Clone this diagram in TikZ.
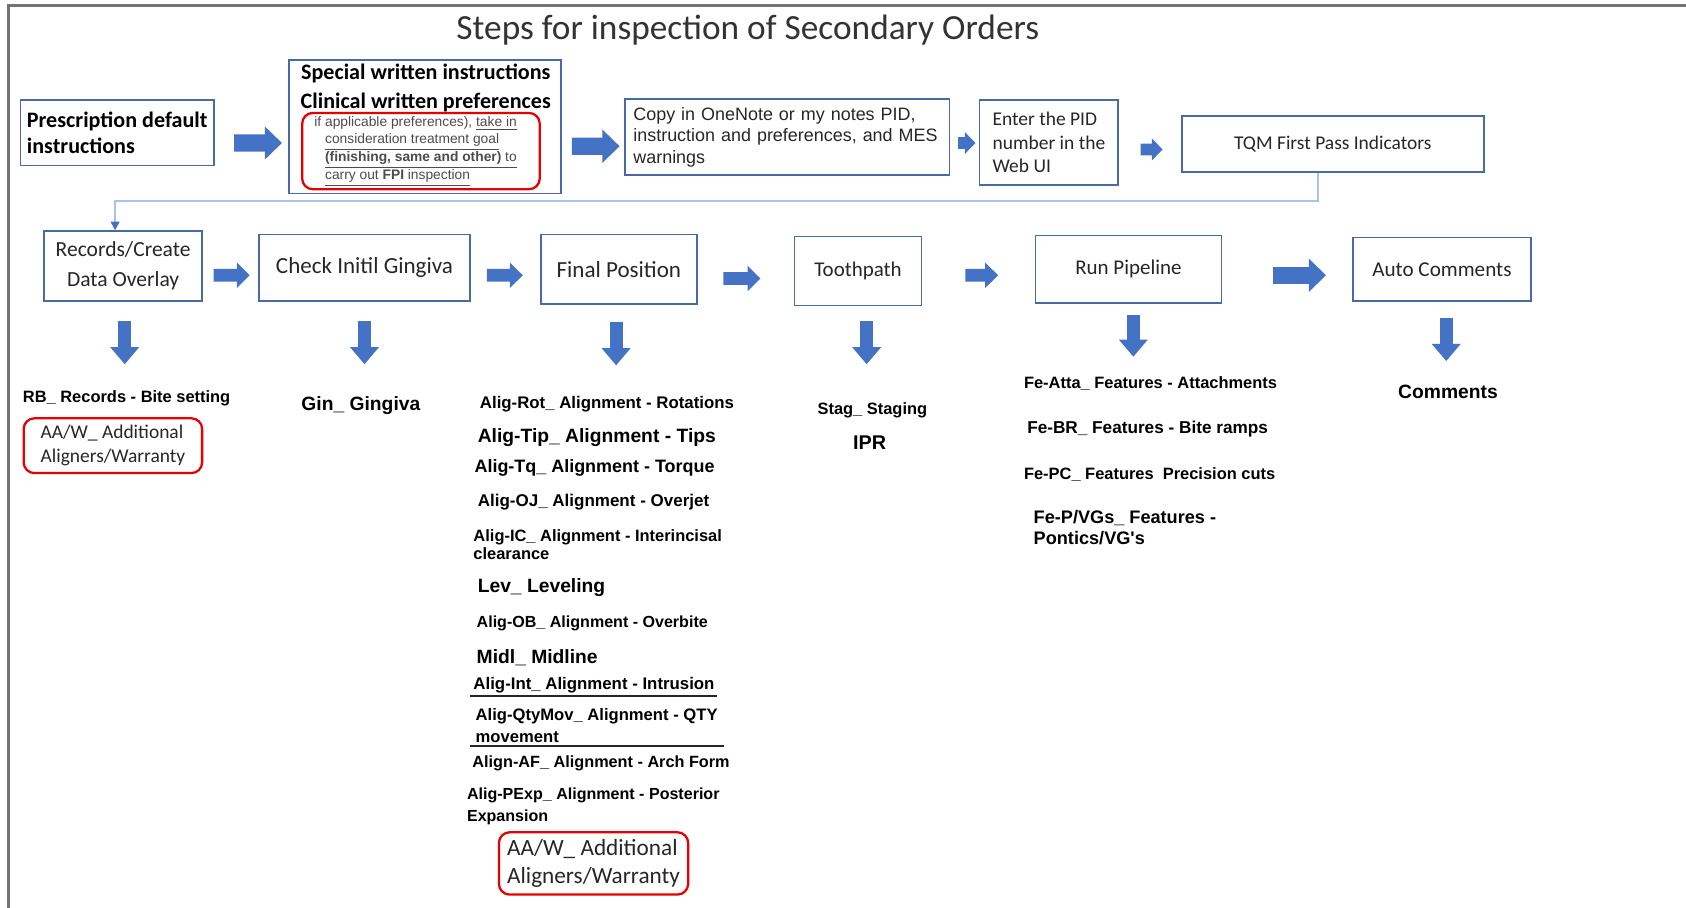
\documentclass[tikz,border=0pt]{standalone}
\usepackage{fontspec}
\setmainfont{Carlito}
\newfontfamily\arialfont{Liberation Sans}
\usetikzlibrary{arrows.meta,calc}

\definecolor{arrblue}{RGB}{68,114,196}
\definecolor{boxblue}{RGB}{72,106,168}
\definecolor{linkblue}{RGB}{170,195,232}
\definecolor{redline}{RGB}{232,0,0}

\begin{document}
\begin{tikzpicture}[x=0.02cm,y=-0.02cm]

	\tikzstyle{stepbox}   = [rectangle, draw=boxblue, line width=0.9pt, inner sep=0pt, text=black!85]
	\tikzstyle{redbox}    = [rectangle, rounded corners=0.2cm, draw=redline, line width=1.2pt, inner sep=0pt, align=left]
	\tikzstyle{lbl}       = [anchor=west, inner sep=0pt, align=left, font=\arialfont\bfseries\fontsize{8.7}{9.7}\selectfont]
	\tikzstyle{big lbl}   = [lbl, font=\arialfont\bfseries\fontsize{10.2}{11.4}\selectfont]
	\tikzstyle{fat}       = [draw=arrblue, line width=0.32cm, -{Triangle[length=0.32cm,width=0.6cm]}]
	\tikzstyle{small fat} = [draw=arrblue, line width=0.22cm, -{Triangle[length=0.2cm,width=0.4cm]}]
	\tikzstyle{mid fat}   = [draw=arrblue, line width=0.24cm, -{Triangle[length=0.24cm,width=0.46cm]}]
	\tikzstyle{down fat}  = [draw=arrblue, line width=0.24cm, -{Triangle[length=0.32cm,width=0.52cm]}]
	\tikzstyle{link}      = [draw=linkblue, line width=0.9pt, -{Triangle[length=0.16cm,width=0.16cm,color=arrblue]}]
	\tikzstyle{outer line}= [draw=black!55, line width=1.2pt]
	\tikzstyle{rule}      = [draw=black!85, line width=0.9pt]

	\useasboundingbox (0,0) rectangle (1568,844);
	\draw[outer line] (8,844) -- (8,5) -- (1568,5);

	\node[font=\fontsize{18.7}{22}\selectfont, text=black!80] (title) at (695.5,28) {Steps for inspection of Secondary Orders};

	% top row
	\node[stepbox, minimum width=3.6cm, minimum height=1.22cm, align=left, text=black, font=\bfseries\fontsize{11.7}{13.7}\selectfont] (pdi) at (109,123.5) {Prescription default\\instructions};

	\node[stepbox, minimum width=5.06cm, minimum height=2.48cm] (swi) at (395.5,118) {};
	\node[align=center, inner sep=0pt, font=\bfseries\fontsize{11.7}{15.4}\selectfont] (swit) at (396,81.5) {Special written instructions\\Clinical written preferences};
	\node[redbox, minimum width=4.42cm, minimum height=1.42cm, text=black!70, font=\arialfont\fontsize{7.3}{9.4}\selectfont] (swir) at (391.5,140.5)
		{\hspace*{-0.2cm}if applicable preferences), \underline{take in}\\\underline{consideration treatment goal}\\\underline{\textbf{(finishing, same and other)} to}\\\underline{carry out \textbf{FPI} inspection}};

	\node[stepbox, minimum width=6.04cm, minimum height=1.42cm, text width=5.72cm, align=left, font=\arialfont\fontsize{9.5}{11.4}\selectfont] (cpy) at (732,127.5) {Copy in OneNote or my notes PID,\\instruction and preferences, and MES\\warnings};

	\node[stepbox, minimum width=2.58cm, minimum height=1.58cm, align=left, font=\fontsize{10.3}{12.5}\selectfont] (pid) at (975.5,132.5) {Enter the PID\\number in the\\Web UI};

	\node[stepbox, minimum width=5.62cm, minimum height=1.04cm, font=\fontsize{10.3}{12.5}\selectfont] (tqm) at (1239.5,134) {TQM First Pass Indicators};

	\draw[fat] ($(pdi.east)+(18,9.5)$) -- ($(swi.west)+(-6,15)$);
	\draw[fat] ($(swi.east)+(9,18)$) -- ($(cpy.west)+(-4,8.5)$);
	\draw[small fat] ($(cpy.east)+(7,5.5)$) -- ($(pid.west)+(-3,0.5)$);
	\draw[small fat] ($(pid.east)+(20,6.5)$) -- ($(tqm.west)+(-17,5)$);

	% second row
	\node[stepbox, minimum width=2.94cm, minimum height=1.3cm, align=center, font=\fontsize{11.4}{15.9}\selectfont] (rec) at (114.5,247.5) {Records/Create\\Data Overlay};
	\node[stepbox, minimum width=3.92cm, minimum height=1.24cm, font=\fontsize{12.2}{14}\selectfont] (cig) at (339,249) {Check Initil Gingiva};
	\node[stepbox, minimum width=2.9cm, minimum height=1.3cm, font=\fontsize{12.2}{14}\selectfont] (fpo) at (575.5,250.5) {Final Position};
	\node[stepbox, minimum width=2.36cm, minimum height=1.28cm, font=\fontsize{11.1}{13}\selectfont] (tpa) at (798,252) {Toothpath};
	\node[stepbox, minimum width=3.46cm, minimum height=1.26cm, font=\fontsize{11.1}{13}\selectfont] (rpl) at (1049.5,250.5) {Run Pipeline};
	\node[stepbox, minimum width=3.32cm, minimum height=1.18cm, font=\fontsize{11.2}{13}\selectfont] (aco) at (1341,250.5) {Auto Comments};

	\draw[link] ($(tqm.south)+(-13.5,0)$) -- ++(0,26) -| ($(rec.north)+(-7.5,0)$);

	\draw[mid fat] ($(rec.east)+(10,8.5)$) -- ($(cig.west)+(-8,7)$);
	\draw[mid fat] ($(cig.east)+(15,7)$) -- ($(fpo.west)+(-16,5.5)$);
	\draw[mid fat] ($(fpo.east)+(24,8.5)$) -- ($(tpa.west)+(-31,7)$);
	\draw[mid fat] ($(tpa.east)+(40,4)$) -- ($(rpl.west)+(-34,5.5)$);
	\draw[fat] ($(rpl.east)+(47,5.5)$) -- ($(aco.west)+(-24,5.5)$);

	\draw[down fat] ($(rec.south)+(1.5,18)$) -- ($(rec.south)+(1.5,58)$);
	\draw[down fat] ($(cig.south)+(0,18)$) -- ($(cig.south)+(0,58)$);
	\draw[down fat] ($(fpo.south)+(-2.5,16)$) -- ($(fpo.south)+(-2.5,56)$);
	\draw[down fat] ($(tpa.south)+(8,14)$) -- ($(tpa.south)+(8,54)$);
	\draw[down fat] ($(rpl.south)+(4.5,10)$) -- ($(rpl.south)+(4.5,49)$);
	\draw[down fat] ($(aco.south)+(4,15)$) -- ($(aco.south)+(4,55)$);

	% codes under each step
	\node[lbl] (rb) at (21,370) {RB\_ Records - Bite setting};
	\node[redbox, minimum width=3.32cm, minimum height=1.02cm, text=black!85, font=\fontsize{10.3}{12.5}\selectfont] (aaw1) at (105,414.5) {AA/W\_ Additional\\Aligners/Warranty};

	\node[big lbl] (gin) at (280,377) {Gin\_ Gingiva};

	\node[lbl, font=\arialfont\bfseries\fontsize{8.9}{10}\selectfont] (rot) at (446,376) {Alig-Rot\_ Alignment - Rotations};
	\node[big lbl] (tip) at (444,407) {Alig-Tip\_ Alignment - Tips};
	\node[lbl, font=\arialfont\bfseries\fontsize{9.5}{11}\selectfont] (tq) at (441,435) {Alig-Tq\_ Alignment - Torque};
	\node[lbl, font=\arialfont\bfseries\fontsize{9}{10}\selectfont] (oj) at (444,467) {Alig-OJ\_ Alignment - Overjet};
	\node[lbl] (ic) at (440,506.5) {Alig-IC\_ Alignment - Interincisal\\clearance};
	\node[big lbl] (lev) at (444,546) {Lev\_ Leveling};
	\node[lbl, font=\arialfont\bfseries\fontsize{8.5}{10}\selectfont] (ob) at (443,580) {Alig-OB\_ Alignment - Overbite};
	\node[big lbl] (midl) at (443,612) {Midl\_ Midline};
	\node[lbl, font=\arialfont\bfseries\fontsize{8.9}{10}\selectfont] (int) at (440,637) {Alig-Int\_ Alignment - Intrusion};
	\draw[rule] ($(int.west)+(-3,10)$) -- ($(int.west)+(227,10)$);
	\node[lbl, font=\arialfont\bfseries\fontsize{8.8}{11.4}\selectfont] (qty) at (442,675) {Alig-QtyMov\_ Alignment - QTY\\movement};
	\draw[rule] ($(qty.west)+(-5,19)$) -- ($(qty.west)+(231,19)$);
	\node[lbl, font=\arialfont\bfseries\fontsize{8.6}{10}\selectfont] (af) at (439,710) {Align-AF\_ Alignment - Arch Form};
	\node[lbl, font=\arialfont\bfseries\fontsize{8.5}{11.4}\selectfont] (pexp) at (434,750) {Alig-PExp\_ Alignment - Posterior\\Expansion};
	\node[redbox, minimum width=3.52cm, minimum height=1.16cm, text=black!85, font=\fontsize{12.3}{14.8}\selectfont] (aaw2) at (552,803) {AA/W\_ Additional\\Aligners/Warranty};

	\node[lbl] (stag) at (760,382) {Stag\_ Staging};
	\node[big lbl, font=\arialfont\bfseries\fontsize{10.5}{12}\selectfont] (ipr) at (793,412) {IPR};

	\node[lbl] (atta) at (952,357) {Fe-Atta\_ Features - Attachments};
	\node[lbl, font=\arialfont\bfseries\fontsize{9.1}{10}\selectfont] (br) at (955,399) {Fe-BR\_ Features - Bite ramps};
	\node[lbl] (pc) at (952,441) {Fe-PC\_ Features\ \ Precision cuts};
	\node[lbl, font=\arialfont\bfseries\fontsize{9.6}{10.8}\selectfont] (pvg) at (961,490.5) {Fe-P/VGs\_ Features -\\Pontics/VG\textquotesingle s};

	\node[big lbl] (cmt) at (1300,364) {Comments};

\end{tikzpicture}
\end{document}
